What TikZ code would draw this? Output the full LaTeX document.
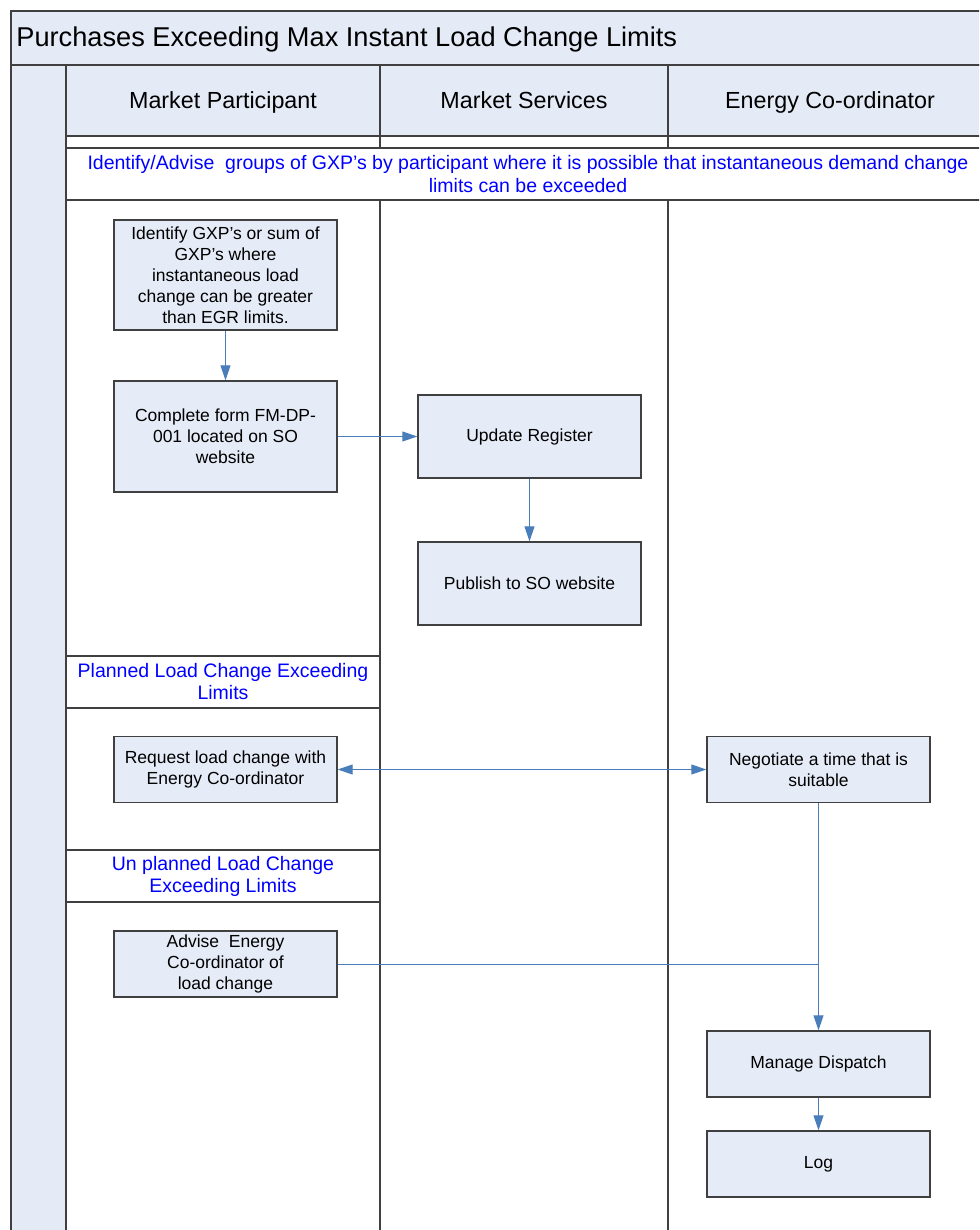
\documentclass[tikz,border=0pt]{standalone}
\usepackage{fontspec}
\setmainfont{Liberation Sans}
\usetikzlibrary{arrows.meta}
\definecolor{lanefill}{HTML}{E4EBF6}
\definecolor{boxfill}{HTML}{E6ECF7}
\definecolor{frameline}{HTML}{404040}
\definecolor{flowblue}{HTML}{4A7EBB}
\definecolor{phaseblue}{HTML}{0000FF}
\tikzset{vtip/.tip={Triangle[length=7.5pt,width=5pt]}}

\begin{document}
\begin{tikzpicture}[x=0.5pt,y=-0.5pt,
  frame/.style={draw=frameline, line width=0.75pt},
  task/.style={draw=frameline, fill=boxfill, line width=0.7pt, minimum width=111.5pt,
    align=center, inner sep=0pt, font=\fontsize{8.75}{10.5}\selectfont},
  phase/.style={text=phaseblue, align=center, font=\fontsize{9.75}{11.2}\selectfont},
  lanehead/.style={anchor=base, font=\fontsize{11.65}{14}\selectfont},
  flowline/.style={draw=flowblue, line width=0.5pt},
  flow/.style={flowline, -vtip}]
\useasboundingbox (0,0) rectangle (979,1230);
\clip (0,0) rectangle (979,1230);
\fill[white] (0,0) rectangle (979,1230);

% pool and title
\draw[frame, fill=lanefill] (11,11) rectangle (995,65);
\node[anchor=base west, inner sep=0pt, font=\fontsize{13.6}{16}\selectfont] (title) at (16,47)
  {Purchases Exceeding Max Instant Load Change Limits};
\draw[frame, fill=lanefill] (11,65) rectangle (66,1240);

% lane headers
\draw[frame, fill=lanefill] (66,65) rectangle (380,136);
\draw[frame, fill=lanefill] (380,65) rectangle (668,136);
\draw[frame, fill=lanefill] (668,65) rectangle (995,136);
\node[lanehead] (mp) at (223,109) {Market Participant};
\node[lanehead] (ms) at (524,109) {Market Services};
\node[lanehead] (ec) at (830,109) {Energy Co-ordinator};

% lane lines
\draw[frame] (66,136) -- (66,1240);
\draw[frame] (380,136) -- (380,148);
\draw[frame] (668,136) -- (668,148);
\draw[frame] (380,200) -- (380,1240);
\draw[frame] (668,200) -- (668,1240);

% phases
\draw[frame, fill=white] (66,148) rectangle (995,200);
\node[phase] (ph1) at (528,174) {Identify/Advise\ \ groups of GXP’s by participant where it is possible that instantaneous demand change\\limits can be exceeded};
\draw[frame, fill=white] (66,656) rectangle (380,708);
\node[phase] (ph2) at (223,681.5) {Planned Load Change Exceeding\\Limits};
\draw[frame, fill=white] (66,850) rectangle (380,902);
\node[phase] (ph3) at (223,876.5) {Un planned Load Change\\Exceeding Limits};

% tasks
\node[task, minimum height=55pt] (ident) at (225.5,275) {Identify GXP’s or sum of\\GXP’s where\\instantaneous load\\change can be greater\\than EGR limits.};
\node[task, minimum height=55.5pt] (form) at (225.5,436.5) {Complete form FM-DP-\\001 located on SO\\website};
\node[task, minimum height=41.5pt] (upd) at (529.5,436.5) {Update Register};
\node[task, minimum height=41.5pt] (pub) at (529.5,583.5) {Publish to SO website};
\node[task, minimum height=33pt] (req) at (225.5,769.5) {Request load change with\\Energy Co-ordinator};
\node[task, minimum height=33pt] (nego) at (818.5,769.5) {Negotiate a time that is\\suitable};
\node[task, minimum height=33pt] (adv) at (225.5,964) {Advise\ \ Energy\\Co-ordinator of\\load change};
\node[task, minimum height=33pt] (mgd) at (818.5,1064) {Manage Dispatch};
\node[task, minimum height=33pt] (log) at (818.5,1164) {Log};

% flows
\draw[flow] (ident) -- (form);
\draw[flow] (form) -- (upd);
\draw[flow] (upd) -- (pub);
\draw[flowline, vtip-vtip] (req) -- (nego);
\draw[flow] (nego) -- (mgd);
\draw[flowline] (adv.east) -- (adv.east -| mgd.north);
\draw[flow] (mgd) -- (log);
\end{tikzpicture}
\end{document}
